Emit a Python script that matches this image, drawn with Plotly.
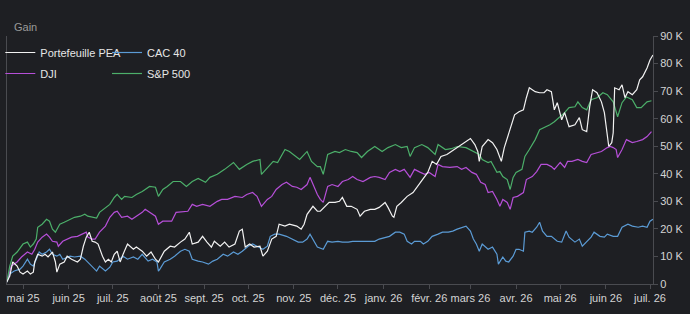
import pandas as pd
import plotly.graph_objects as go

START = "2025-04-20"

# Portefeuille PEA (days since start, value in K€)
pea_days = [0,2,4,7,9,11,14,16,18,19,21,24,26,28,31,33,34,36,39,41,44,48,50,52,54,56,58,60,62,65,67,69,71,73,75,77,79,82,86,88,92,95,98,101,103,104,107,111,114,118,121,124,126,130,133,136,139,141,145,148,151,155,158,160,162,165,168,172,174,177,180,183,185,189,192,197,200,202,204,208,211,213,216,219,223,226,228,231,234,238,240,243,247,250,253,257,259,262,263,265,268,272,276,279,283,286,289,292,295,299,302,306,309,312,315,318,320,321,323,327,330,333,336,338,342,345,348,351,353,355,359,362,365,367,370,372,374,377,379,382,386,389,391,394,396,398,401,404,406,408,409,411,412,413,416,418,420,422,425,428,430,432,435,437,439]
pea_k = [0.7,2.9,8.0,6.5,4.3,3.6,4.7,3.6,4.3,8.0,10.8,10.1,10.8,9.8,11.6,8.0,4.3,7.2,8.0,10.1,9.0,8.0,9.0,13.7,17.0,18.8,15.5,15.2,14.5,10.1,8.0,9.0,8.0,10.8,11.9,8.0,10.8,14.5,12.6,13.4,11.9,10.1,11.6,9.0,8.0,9.0,11.9,13.7,13.4,15.2,16.3,18.8,14.5,15.2,17.3,15.2,13.4,15.5,13.7,15.2,13.4,14.5,19.2,19.9,13.4,14.5,13.4,13.7,10.1,11.9,16.3,17.3,21.7,21.0,21.7,21.0,19.9,21.7,25.3,28.2,26.4,26.4,28.2,29.6,29.6,30.0,31.4,28.2,28.2,27.1,24.6,26.4,27.1,27.1,27.8,29.6,27.8,24.6,24.2,28.2,29.6,31.8,33.2,35.4,38.7,40.5,44.5,43.4,46.3,47.0,48.1,49.5,50.6,51.7,52.8,50.6,48.1,44.5,49.9,52.4,51.3,48.8,44.5,49.5,56.0,61.4,62.5,63.2,67.6,71.2,69.8,69.4,69.4,70.5,69.8,63.2,65.8,59.6,62.2,57.1,57.8,60.4,56.0,55.3,64.3,70.5,69.4,66.1,62.2,54.2,49.9,51.3,54.9,71.2,70.5,72.3,67.6,69.8,68.7,70.5,74.1,75.2,78.4,81.3,83.1]

# CAC 40
cac_days = [0,2,5,9,11,14,16,18,20,22,24,27,29,31,34,36,38,41,43,46,50,53,55,58,61,63,67,70,72,75,79,82,86,89,92,96,99,102,103,104,107,111,114,118,121,124,126,130,133,137,140,143,147,150,154,157,160,164,167,170,174,177,179,182,185,190,194,198,201,204,206,208,211,215,218,221,225,228,232,235,238,242,247,250,253,257,260,264,267,270,272,275,277,281,283,286,289,293,296,300,303,306,310,312,315,317,319,321,323,327,330,333,334,337,339,341,344,346,348,351,352,355,357,360,362,364,367,370,374,377,380,382,386,389,391,394,397,399,403,406,408,412,415,418,422,425,429,432,435,437,439]
cac_k = [0.7,3.6,4.7,5.4,6.5,9.0,7.2,6.5,9.0,11.6,10.8,11.6,12.6,10.8,10.1,10.8,9.0,9.8,10.1,9.8,10.1,9.0,8.0,6.5,4.7,6.5,4.7,6.1,8.0,8.3,10.1,9.0,9.8,9.0,10.8,8.3,9.0,8.0,4.7,5.4,8.0,9.0,10.1,11.9,12.6,11.9,9.0,8.3,8.0,7.2,8.3,9.0,10.8,10.1,11.6,10.8,11.9,13.7,14.5,13.7,12.6,13.7,17.3,18.1,18.1,17.3,16.3,15.2,15.2,16.3,18.1,16.3,13.4,12.6,15.5,15.2,15.5,15.2,15.2,15.5,15.5,15.5,15.5,15.5,16.3,17.0,17.3,18.8,18.8,18.1,15.5,14.5,15.5,15.5,14.5,15.5,17.3,18.1,18.8,18.8,19.2,19.9,20.6,21.0,19.2,16.3,14.5,11.9,14.5,12.6,13.4,10.8,7.2,9.8,8.3,8.0,10.1,12.6,12.6,11.9,18.8,19.2,18.8,20.6,22.4,19.2,17.3,17.3,15.5,15.2,19.2,17.0,15.2,16.3,13.7,15.5,17.0,18.8,17.3,17.0,18.1,17.3,17.3,20.6,21.7,21.0,20.6,21.0,20.6,22.8,23.5]

# DJI
dji_days = [0,3,7,10,14,17,19,21,24,27,29,31,34,35,38,41,44,48,51,54,55,58,60,63,67,70,73,75,78,82,85,88,92,94,97,101,103,106,109,112,115,120,123,126,129,133,138,143,146,150,155,160,163,167,170,173,177,180,183,187,190,194,197,200,204,206,208,211,213,215,218,221,225,228,232,235,238,242,247,250,253,257,260,264,267,270,274,277,281,284,287,291,293,296,301,306,309,312,316,319,322,325,327,330,333,335,337,340,342,344,347,351,353,357,360,363,367,370,372,376,379,381,384,388,391,394,397,401,404,408,410,412,414,415,418,421,425,428,432,435,438]
dji_k = [0.7,6.5,8.0,9.8,11.6,10.8,12.6,15.2,17.0,18.1,17.0,15.5,15.2,13.7,15.5,16.3,17.0,17.3,18.1,18.8,17.0,16.3,16.3,18.8,21.0,24.2,26.0,26.4,24.2,24.6,23.5,24.6,26.0,27.1,26.0,24.6,21.7,22.8,22.8,22.8,26.0,26.4,26.4,28.9,28.2,28.9,28.2,30.0,30.7,30.7,31.8,31.4,32.5,33.2,31.8,28.2,30.7,31.8,34.3,36.1,36.9,35.4,35.1,34.3,36.1,38.7,36.1,32.5,30.7,29.6,35.4,36.1,35.4,37.2,37.9,39.0,37.9,37.2,38.7,39.0,38.7,37.9,40.5,41.6,40.8,41.6,38.7,41.6,40.5,39.8,40.5,39.0,43.4,42.6,42.3,42.6,41.6,42.3,40.5,39.8,36.9,36.1,33.2,33.6,30.7,28.2,30.7,29.6,27.1,31.4,31.8,33.2,37.9,39.0,40.8,43.4,43.4,42.6,41.6,44.1,42.3,44.5,44.5,45.2,44.5,44.1,47.0,47.7,48.1,49.5,49.9,49.5,48.8,45.9,48.8,52.4,51.3,51.7,52.4,53.5,55.3]

# S&P 500
spx_days = [0,2,4,7,11,14,16,18,20,21,24,27,29,31,33,35,36,39,43,46,50,53,55,58,61,63,67,70,73,75,78,80,85,88,92,97,101,103,106,109,113,118,122,126,130,135,138,143,148,154,158,163,167,172,173,177,181,184,189,192,196,199,204,207,211,213,215,218,223,226,230,234,238,241,245,250,255,259,264,268,272,274,277,282,286,291,293,298,302,306,312,317,321,323,327,329,333,335,337,340,342,344,346,350,352,355,359,362,365,369,372,376,379,382,386,388,391,394,397,401,405,408,412,415,418,421,425,428,431,435,438]
spx_k = [0.7,6.5,10.1,11.6,14.5,15.2,13.4,14.5,16.3,20.6,21.7,23.5,22.8,19.9,18.8,20.6,21.7,22.4,23.5,24.2,24.6,25.3,24.6,24.2,23.9,26.0,27.8,28.9,31.4,32.5,30.7,31.8,31.4,32.5,33.6,35.4,35.1,31.8,34.3,35.4,37.2,37.2,35.4,37.2,38.3,36.9,38.7,39.8,41.6,44.1,41.6,43.4,44.5,45.2,39.8,42.3,44.5,44.1,48.8,48.1,46.3,45.2,48.1,44.5,42.6,42.6,39.8,47.0,48.1,47.7,48.8,48.1,47.7,45.9,48.1,49.9,48.1,49.5,50.6,49.5,49.9,46.3,49.5,50.6,49.5,47.0,50.6,48.8,49.1,49.9,49.5,48.1,47.0,45.2,44.1,44.5,40.5,40.8,39.0,37.9,34.3,38.7,40.5,41.6,46.3,48.8,52.4,56.0,56.7,57.8,58.9,60.7,62.2,64.0,64.3,66.1,64.0,63.2,66.9,67.6,69.4,68.7,66.1,60.7,65.8,67.9,66.9,64.0,64.0,66.1,66.5]

month_ticks = ["2025-05-01","2025-06-01","2025-07-01","2025-08-01","2025-09-01","2025-10-01","2025-11-01","2025-12-01","2026-01-01","2026-02-01","2026-03-01","2026-04-01","2026-05-01","2026-06-01","2026-07-01"]
month_labels = ["mai 25","juin 25","juil. 25","août 25","sept. 25","oct. 25","nov. 25","déc. 25","janv. 26","févr. 26","mars 26","avr. 26","mai 26","juin 26","juil. 26"]
y_ticks = [0,10,20,30,40,50,60,70,80,90]
y_labels = ["0","10 K","20 K","30 K","40 K","50 K","60 K","70 K","80 K","90 K"]

def to_dates(days):
    return pd.Timestamp(START) + pd.to_timedelta(days, unit="D")

BG = "#1e1f23"
FONT = "Liberation Sans, Arial, Helvetica, sans-serif"
PW, PH, ML, MB = 646, 248, 7, 30  # plot area size & margins (px)

series = [
    ("CAC 40", cac_days, cac_k, "#5b9bd5", "legend2", 1),
    ("DJI", dji_days, dji_k, "#b64fd8", "legend", 2),
    ("S&P 500", spx_days, spx_k, "#4caf6a", "legend2", 2),
    ("Portefeuille PEA", pea_days, pea_k, "#f2f2f2", "legend", 1),
]

fig = go.Figure()
for name, d, v, col, leg, rank in series:
    fig.add_trace(go.Scatter(
        x=to_dates(d), y=v, mode="lines", name=name,
        line=dict(color=col, width=1.2),
        legend=leg, legendrank=rank, legendgroup=name,
    ))

leg_common = dict(xanchor="left", yanchor="top", bgcolor="rgba(0,0,0,0)",
                  font=dict(size=11, color="#e6e6e6"), tracegroupgap=2,
                  itemclick=False, itemdoubleclick=False, borderwidth=0)
top_px = 38
fig.update_layout(
    width=690, height=314,
    paper_bgcolor=BG, plot_bgcolor=BG,
    margin=dict(l=ML, r=690 - ML - PW, t=314 - MB - PH, b=MB, autoexpand=False),
    font=dict(family=FONT, size=11, color="#d4d4d4"),
    showlegend=True,
    legend=dict(x=(0.3 - ML) / PW, y=(314 - MB - top_px) / PH, **leg_common),
    legend2=dict(x=(107 - ML) / PW, y=(314 - MB - top_px) / PH, **leg_common),
    xaxis=dict(
        type="date",
        range=["2025-04-20 03:00", "2026-07-03 01:00"],
        tickvals=month_ticks, ticktext=month_labels, tickangle=0,
        showgrid=False, zeroline=False,
        showline=True, linecolor="#4a4b50", linewidth=1,
        ticks="outside", ticklen=4, tickcolor="#4a4b50",
        tickfont=dict(size=11, color="#d4d4d4"),
    ),
    yaxis=dict(
        side="right", range=[0, 90],
        tickvals=y_ticks, ticktext=y_labels,
        showgrid=False, zeroline=False,
        showline=True, mirror=True, linecolor="#4a4b50", linewidth=1,
        ticks="outside", ticklen=4, tickcolor="#4a4b50",
        tickfont=dict(size=11, color="#d4d4d4"),
    ),
    annotations=[dict(
        text="Gain", xref="paper", yref="paper",
        x=5 / PW, y=(314 - MB - 27) / PH, xanchor="left", yanchor="middle",
        showarrow=False, font=dict(size=11, color="#9a9a9a"),
    )],
)

fig.write_html("out.html")
